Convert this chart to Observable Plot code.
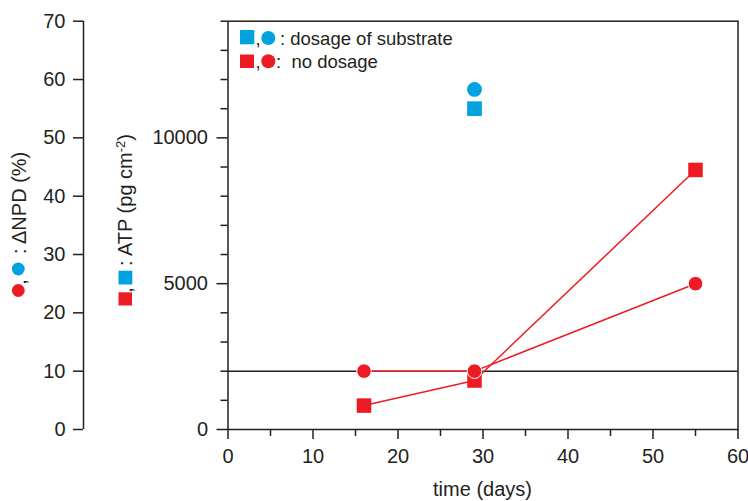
<!DOCTYPE html>
<html><head><meta charset="utf-8">
<script src="https://cdn.jsdelivr.net/npm/d3@7"></script>
<script src="https://cdn.jsdelivr.net/npm/@observablehq/plot@0.6"></script>
<style>body{margin:0;background:#fff} #chart{width:748px;height:501px}</style>
</head><body><div id="chart"></div>
<script>
// ---- data ----
const days = [16, 29, 55];                 // no dosage sampling days
const npdNoDosage = [10, 10, 25];          // ΔNPD (%)
const atpNoDosage = [820, 1680, 8900];     // ATP (pg cm-2)
const dosageDays = [29];
const npdDosage = [58.3];
const atpDosage = [11000];
const npdReference = [10];

const xTicks = [0, 10, 20, 30, 40, 50, 60];
const xMinorTicks = [5, 15, 25, 35, 45, 55];
const npdTicks = [0, 10, 20, 30, 40, 50, 60, 70];
const atpTicks = [0, 5000, 10000];
const atpMinorTicks = [1000, 2000, 3000, 4000, 6000, 7000, 8000, 9000, 11000, 12000, 13000, 14000];
const ATP_PER_NPD = 200; // right-hand scale: 70 % <-> 14000 pg cm-2

const xLabel = "time (days)";
const npdLabel = ": \u0394NPD (%)";
const atpLabel = ": ATP (pg cm";
const legendDosage = ": dosage of substrate";
const legendNoDosage = ":  no dosage";

const blue = "#00a3e0", red = "#ed1c24", ink = "#231f20";

const noDosage = days.map((d, i) => ({day: d, npd: npdNoDosage[i], atp: atpNoDosage[i]}));
const dosage = dosageDays.map((d, i) => ({day: d, npd: npdDosage[i], atp: atpDosage[i]}));
const atpY = d => d.atp / ATP_PER_NPD;

const chart = Plot.plot({
  width: 748, height: 501,
  marginLeft: 227.5, marginRight: 10.5, marginTop: 20.7, marginBottom: 72,
  x: {domain: [0, 60]},
  y: {domain: [0, 70]},
  style: {fontFamily: "'Liberation Sans', Arial, sans-serif", fontSize: "20px", color: ink, background: "white", overflow: "visible"},
  marks: [
    Plot.ruleY(npdReference, {stroke: ink, strokeWidth: 1.5}),
    Plot.frame({stroke: ink, strokeWidth: 1.5}),
    // outer ΔNPD axis
    Plot.ruleX([xTicks[0]], {dx: -144.5, stroke: ink, strokeWidth: 1.5}),
    Plot.axisY({ticks: npdTicks, anchor: "left", dx: -144.5, tickSize: 10, tickPadding: 8, label: null, fontSize: 20, strokeWidth: 1.5}),
    // ATP axis
    Plot.axisY({ticks: atpMinorTicks.map(v => v / ATP_PER_NPD), anchor: "left", tickSize: 7, tickFormat: () => "", label: null, strokeWidth: 1.5}),
    Plot.axisY({ticks: atpTicks.map(v => v / ATP_PER_NPD), anchor: "left", tickSize: 11, tickPadding: 9, tickFormat: v => String(Math.round(v * ATP_PER_NPD)), label: null, fontSize: 20, strokeWidth: 1.5}),
    // x axis
    Plot.axisX({ticks: xMinorTicks, tickSize: 7, tickFormat: () => "", label: null, strokeWidth: 1.5}),
    Plot.axisX({ticks: xTicks, tickSize: 10, tickPadding: 9, label: null, fontSize: 20, strokeWidth: 1.5}),
    // series
    Plot.line(noDosage, {x: "day", y: "npd", stroke: red, strokeWidth: 1.5}),
    Plot.line(noDosage, {x: "day", y: atpY, stroke: red, strokeWidth: 1.5}),
    Plot.dot(noDosage, {x: "day", y: atpY, symbol: "square", r: 8.2, fill: red}),
    Plot.dot(noDosage, {x: "day", y: "npd", r: 7.3, fill: red, stroke: "white", strokeWidth: 1}),
    Plot.dot(dosage, {x: "day", y: atpY, symbol: "square", r: 8.3, fill: blue}),
    Plot.dot(dosage, {x: "day", y: "npd", r: 7.4, fill: blue})
  ]
});
document.getElementById("chart").appendChild(chart);

const svg = d3.select(chart);
const font = "'Liberation Sans', Arial, sans-serif";
const addText = (sel) => sel.attr("font-family", font).attr("fill", ink).attr("text-anchor", "start");

// x axis title
addText(svg.append("text")).attr("x", 482.5).attr("y", 496).attr("text-anchor", "middle")
  .attr("font-size", 20).text(xLabel);

// ΔNPD axis title with symbols
svg.append("circle").attr("cx", 18.3).attr("cy", 269).attr("r", 6.4).attr("fill", blue);
svg.append("circle").attr("cx", 18.3).attr("cy", 290.5).attr("r", 6.4).attr("fill", red);
addText(svg.append("text")).attr("transform", "translate(25.5,282) rotate(-90)").attr("text-anchor", "middle")
  .attr("font-size", 20).text(",");
addText(svg.append("text")).attr("transform", "translate(25.5,254) rotate(-90)")
  .attr("font-size", 20).text(npdLabel);

// ATP axis title with symbols
svg.append("rect").attr("x", 118.5).attr("y", 270.7).attr("width", 13.8).attr("height", 13.8).attr("fill", blue);
svg.append("rect").attr("x", 118.5).attr("y", 292.3).attr("width", 13.5).attr("height", 13.2).attr("fill", red);
addText(svg.append("text")).attr("transform", "translate(131.5,290) rotate(-90)").attr("text-anchor", "middle")
  .attr("font-size", 20).text(",");
const atpText = addText(svg.append("text")).attr("transform", "translate(131.5,266) rotate(-90)")
  .attr("font-size", 20);
atpText.append("tspan").text(atpLabel);
atpText.append("tspan").attr("dy", -7).attr("font-size", 13).text("-2");
atpText.append("tspan").attr("dy", 7).text(")");

// legend
const lg = svg.append("g").attr("font-family", font).attr("font-size", 18.5).attr("fill", ink).attr("text-anchor", "start");
lg.append("rect").attr("x", 240).attr("y", 30).attr("width", 14.3).attr("height", 14.3).attr("fill", blue);
lg.append("text").attr("x", 255.5).attr("y", 45).text(",");
lg.append("circle").attr("cx", 268.3).attr("cy", 38).attr("r", 7).attr("fill", blue);
lg.append("text").attr("x", 280).attr("y", 45).text(legendDosage);
lg.append("rect").attr("x", 240).attr("y", 54.5).attr("width", 14).attr("height", 13.5).attr("fill", red);
lg.append("text").attr("x", 255.5).attr("y", 68).text(",");
lg.append("circle").attr("cx", 268.3).attr("cy", 61.3).attr("r", 7).attr("fill", red);
lg.append("text").attr("x", 276).attr("y", 67.5).text(legendNoDosage);
</script>
</body></html>
